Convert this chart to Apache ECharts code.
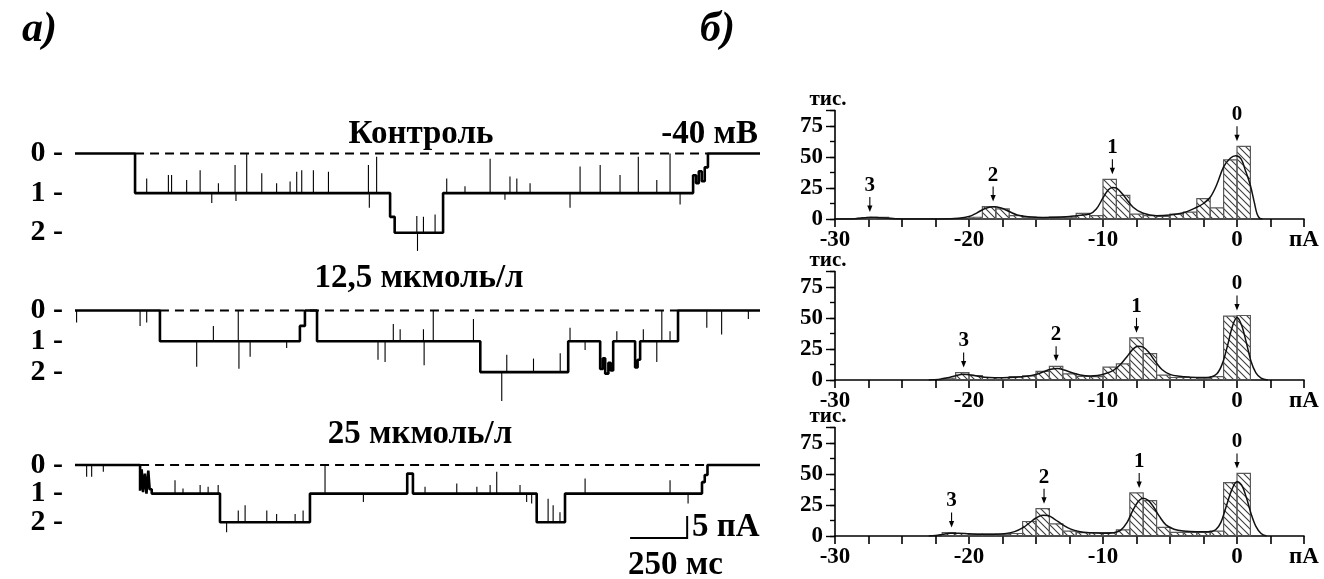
<!DOCTYPE html>
<html>
<head>
<meta charset="utf-8">
<script src="https://cdn.jsdelivr.net/npm/echarts@6/dist/echarts.min.js"></script>
<style>
  html, body { margin: 0; padding: 0; background: #fff; }
  #chart { width: 1324px; height: 579px; }
</style>
</head>
<body>
<div id="chart"></div>
<script>
// ---------- а) single-channel current records ----------
// dwell segments: [start ms, end ms, number of open channels]
const controlSegments = [
  [0, 263, 0], [263, 1380, 1], [1380, 1400, 1.6], [1400, 1612, 2], [1612, 2707, 1],
  [2707, 2720, 0.55], [2720, 2732, 0.75], [2732, 2745, 0.45], [2745, 2758, 0.7],
  [2758, 2772, 0.35], [2772, 3000, 0]
];
// brief excursions: [time ms, level reached]
const controlSpikes = [
  [314, 0.63], [409, 0.54], [423, 0.54], [489, 0.67], [548, 0.42], [599, 1.25], [628, 0.75],
  [701, 0.29], [705, 1.2], [752, 0], [818, 0.5], [883, 0.75], [942, 0.71], [971, 0.46],
  [993, 0.42], [1044, 0.42], [1110, 0.46], [1285, 0.29], [1289, 1.37], [1321, 0.08],
  [1497, 1.58], [1500, 2.46], [1526, 1.6], [1577, 1.54],
  [1628, 0.63], [1708, 0.83], [1818, 0.13], [1883, 1.17], [1905, 0.58], [1935, 0.63],
  [1993, 0.75], [2168, 1.37], [2212, 0.33], [2300, 0.29], [2387, 0.54], [2467, 0.08],
  [2548, 0.67], [2606, 0], [2650, 1.29]
];
const dose1Segments = [
  [0, 372, 0], [372, 985, 1], [985, 1007, 0.5], [1007, 1060, 0], [1060, 1775, 1],
  [1775, 2160, 2], [2160, 2300, 1], [2300, 2312, 1.9], [2312, 2322, 1.55], [2322, 2336, 2.05],
  [2336, 2346, 1.7], [2346, 2357, 1.95], [2357, 2453, 1], [2453, 2464, 1.85],
  [2464, 2475, 1.6], [2475, 2641, 1], [2641, 3000, 0]
];
const dose1Spikes = [
  [7, 0.39], [285, 0.5], [314, 0.39],
  [533, 1.83], [606, 0.5], [715, 0], [718, 1.89], [767, 1.5], [927, 1.22],
  [1327, 1.6], [1358, 1.67], [1394, 0.44], [1424, 0.61], [1526, 0.61], [1529, 1.78],
  [1569, 0], [1745, 0.28],
  [1869, 2.94], [1891, 1.44], [2008, 1.56], [2125, 1.39],
  [2168, 0.56], [2234, 1.28], [2373, 0.67], [2489, 0.61], [2548, 1.67], [2570, 0], [2606, 0.67],
  [2767, 0.56], [2832, 0.78], [2949, 0.28]
];
const dose2Segments = [
  [0, 285, 0], [285, 292, 0.9], [292, 298, 0.15], [298, 306, 0.95], [306, 313, 0.3],
  [313, 321, 1.0], [321, 327, 0.2], [327, 336, 0.85], [336, 635, 1],
  [635, 1029, 2], [1029, 1455, 1], [1455, 1480, 0.3], [1480, 2022, 1], [2022, 2146, 2],
  [2146, 2746, 1], [2746, 2758, 0.6], [2758, 2770, 0.35], [2770, 3000, 0]
];
const dose2Spikes = [
  [51, 0.41], [73, 0.41], [124, 0.24],
  [438, 0.53], [473, 0.82], [548, 0.7], [583, 0.76], [627, 0.7],
  [664, 2.35], [715, 1.59], [745, 1.41], [840, 1.59], [883, 1.71], [964, 1.71], [999, 1.59],
  [1095, 0], [1263, 1.29], [1533, 0.76], [1672, 0.65], [1760, 0.76], [1818, 0.7],
  [1847, 0.24], [1949, 0.7], [1978, 1.29], [2000, 1.35],
  [2072, 1.18], [2094, 1.41], [2124, 1.65],
  [2234, 0.47], [2606, 0.53], [2685, 1.35]
];
// unitary current of one open channel, pA
const unitCurrents = [9, 7, 6.5];
// closed-level reference line span, ms
const zeroSpans = [[263, 2772], [372, 2641], [285, 2770]];
const traceTitles = ['Контроль', '12,5 мкмоль/л', '25 мкмоль/л'];
const levelNames = ['0', '1', '2'];
// scale bar: origin [ms, pA], 250 ms and 5 pA
const scaleBarOrigin = [2431, -16.6];
const scaleBarTime = 250;
const scaleBarCurrent = 5;

// ---------- б) amplitude histograms ----------
// bins of 1 pA: [left edge pA, count (thousands)]
const controlBins = [
  [-28, 1.2], [-27, 1.3], [-20, 1.4], [-19, 10], [-18, 8.2], [-17, 2.7], [-16, 1.5], [-15, 1.2],
  [-14, 1.5], [-13, 1.5], [-12, 4.6], [-11, 2.7], [-10, 32], [-9, 19], [-8, 4], [-7, 2.7],
  [-6, 2], [-5, 4], [-4, 5.5], [-3, 16.4], [-2, 9], [-1, 47.7], [0, 58.6]
];
const dose1Bins = [
  [-22, 1.4], [-21, 6], [-20, 3.5], [-19, 2], [-18, 2], [-17, 2.7], [-16, 3.3], [-15, 7],
  [-14, 11], [-13, 5], [-12, 3], [-11, 2.7], [-10, 10.4], [-9, 13], [-8, 34], [-7, 21.3],
  [-6, 4], [-5, 2], [-4, 2], [-3, 1.4], [-2, 2.7], [-1, 51.5], [0, 52]
];
const dose2Bins = [
  [-22, 2.8], [-21, 2], [-20, 1.5], [-19, 1.5], [-18, 1.5], [-17, 2], [-16, 11.7], [-15, 22],
  [-14, 9.7], [-13, 4], [-12, 2.8], [-11, 2.8], [-10, 2.8], [-9, 5], [-8, 34.7], [-7, 28.6],
  [-6, 7], [-5, 3], [-4, 3], [-3, 3], [-2, 4], [-1, 43], [0, 50.5]
];
// multi-Gaussian fit: [pA, thousands]
const controlFit = [
  [-30, 0], [-28.5, 0.3], [-27.8, 1.0], [-27.3, 1.5], [-26.6, 1.0], [-25.5, 0.3], [-24, 0.1],
  [-22, 0.1], [-20.8, 0.6], [-20, 2], [-19.4, 5], [-18.8, 8.5], [-18.2, 9.8], [-17.6, 8.8],
  [-17, 6], [-16.4, 3.3], [-15.6, 1.8], [-14.5, 1.3], [-13.5, 1.4], [-12.5, 2], [-12, 2.7],
  [-11, 4], [-10.5, 8], [-10, 17], [-9.6, 23.5], [-9.3, 25.5], [-9, 25], [-8.5, 19.5],
  [-7.75, 9.5], [-7, 4.6], [-6, 2.7], [-5, 3.3], [-4, 5], [-3, 9.5], [-2.5, 12.5], [-2, 17.5],
  [-1.5, 28], [-1, 42], [-0.5, 49], [-0.1, 51], [0.3, 48.5], [0.6, 40], [1, 27], [1.3, 13],
  [1.5, 4], [1.7, 0.5], [1.9, 0]
];
const dose1Fit = [
  [-23, 0], [-22.3, 0.5], [-21.6, 1.8], [-21, 3.5], [-20.4, 4.6], [-19.8, 4], [-19.2, 2.8],
  [-18.5, 2], [-17.5, 1.8], [-16.5, 2.2], [-15.7, 3], [-15, 4.5], [-14.4, 6.8], [-13.9, 8.6],
  [-13.4, 9.2], [-12.9, 8], [-12.3, 5.8], [-11.7, 4], [-11, 3.2], [-10.4, 3.6], [-9.8, 5.2],
  [-9.2, 8], [-8.7, 12.5], [-8.2, 19], [-7.8, 24.5], [-7.4, 27.3], [-7, 26.5], [-6.6, 22.5],
  [-6.1, 15], [-5.6, 8.5], [-5, 4.5], [-4.3, 3], [-3.5, 2.3], [-2.6, 2], [-2, 2.3], [-1.5, 5],
  [-1.1, 13], [-0.7, 28], [-0.35, 43], [0, 50.4], [0.35, 44], [0.7, 30], [1.05, 15],
  [1.4, 6], [1.8, 1.5], [2.3, 0]
];
const dose2Fit = [
  [-23, 0], [-22.5, 0.4], [-22, 1.2], [-21.4, 2.2], [-20.8, 2.3], [-20, 1.8], [-19, 1.4],
  [-18, 1.4], [-17.2, 2], [-16.6, 3.5], [-16, 6.5], [-15.5, 10.5], [-15, 14.5], [-14.5, 16.8],
  [-14.1, 16.5], [-13.6, 13.5], [-13, 9], [-12.4, 5.5], [-11.8, 3.6], [-11, 2.6], [-10, 2.2],
  [-9.2, 2.6], [-8.7, 4.5], [-8.2, 11], [-7.8, 20], [-7.4, 27.5], [-7, 30.5], [-6.6, 28.5],
  [-6.2, 23], [-5.8, 16], [-5.3, 9], [-4.7, 5.5], [-4, 4], [-3, 3.4], [-2.2, 3.4], [-1.6, 5],
  [-1.2, 11], [-0.8, 24], [-0.4, 37], [0, 43.8], [0.35, 41], [0.7, 31], [1.05, 18],
  [1.4, 8], [1.8, 2], [2.2, 0]
];
// peak markers: [pA, height pointed at, number of open channels]
const controlPeaks = [[-27.4, 1.6, 3], [-18.2, 10, 2], [-9.3, 32, 1], [0, 58.6, 0]];
const dose1Peaks = [[-20.4, 6, 3], [-13.5, 11, 2], [-7.5, 34, 1], [0, 52, 0]];
const dose2Peaks = [[-21.3, 2.8, 3], [-14.4, 22, 2], [-7.3, 34.7, 1], [0, 50.5, 0]];
const histXTicks = [-30, -20, -10, 0];
const histYTicks = [0, 25, 50, 75];

// ---------- drawing ----------
const FONT = '"Liberation Serif", "Times New Roman", serif';
const chart = echarts.init(document.getElementById('chart'));

function hatchPattern() {
  const c = document.createElement('canvas');
  c.width = 7; c.height = 7;
  const g = c.getContext('2d');
  g.strokeStyle = '#3c3c3c';
  g.lineWidth = 1.1;
  g.beginPath();
  g.moveTo(-1, -1); g.lineTo(8, 8);
  g.moveTo(-1, 6); g.lineTo(1, 8);
  g.moveTo(6, -1); g.lineTo(8, 1);
  g.stroke();
  return { image: c, repeat: 'repeat' };
}
const hatch = hatchPattern();

const traces = [
  { segments: controlSegments, spikes: controlSpikes, top: 113.9, height: 158.4 },
  { segments: dose1Segments, spikes: dose1Spikes, top: 279.7, height: 123.2 },
  { segments: dose2Segments, spikes: dose2Spikes, top: 436.4, height: 114.4 }
];
const hists = [
  { bins: controlBins, fit: controlFit, peaks: controlPeaks, top: 110.5 },
  { bins: dose1Bins, fit: dose1Fit, peaks: dose1Peaks, top: 271.5 },
  { bins: dose2Bins, fit: dose2Fit, peaks: dose2Peaks, top: 427.5 }
];

function levelAt(segments, t) {
  for (const s of segments) if (t >= s[0] && t <= s[1]) return s[2];
  return 0;
}

const grid = [], xAxis = [], yAxis = [], series = [];

traces.forEach((tr, k) => {
  const unit = unitCurrents[k];
  grid.push({ left: 75, width: 685, top: tr.top, height: tr.height });
  xAxis.push({ type: 'value', gridIndex: k, min: 0, max: 3000, show: false });
  yAxis.push({
    type: 'value', gridIndex: k, min: -3 * unit, max: unit, interval: unit,
    axisLine: { show: false, onZero: false }, axisTick: { show: false }, splitLine: { show: false },
    axisLabel: {
      margin: 12, color: '#000', fontFamily: FONT, fontWeight: 'bold', fontSize: 30,
      formatter: v => {
        const n = Math.round(-v / unit);
        return (n >= 0 && n < levelNames.length && Math.abs(v + n * unit) < 1e-6)
          ? levelNames[n] + ' -' : '';
      }
    }
  });
  // closed-level reference
  series.push({
    type: 'line', xAxisIndex: k, yAxisIndex: k, symbol: 'none', silent: true, z: 1,
    data: [[zeroSpans[k][0], 0], [zeroSpans[k][1], 0]],
    lineStyle: { color: '#000', width: 2, type: [9, 6] }
  });
  // current record
  const pts = [];
  tr.segments.forEach(s => { pts.push([s[0], -s[2] * unit]); pts.push([s[1], -s[2] * unit]); });
  series.push({
    type: 'line', xAxisIndex: k, yAxisIndex: k, symbol: 'none', silent: true, z: 3,
    data: pts, lineStyle: { color: '#000', width: 2.6, join: 'bevel', cap: 'butt' }
  });
  // brief excursions
  series.push({
    type: 'custom', xAxisIndex: k, yAxisIndex: k, silent: true, z: 3,
    data: tr.spikes.map(s => [s[0], -s[1] * unit, -levelAt(tr.segments, s[0]) * unit]),
    renderItem: (params, api) => {
      const a = api.coord([api.value(0), api.value(2)]);
      const b = api.coord([api.value(0), api.value(1)]);
      return { type: 'line', shape: { x1: a[0], y1: a[1], x2: b[0], y2: b[1] },
               style: { stroke: '#000', lineWidth: 1.1 } };
    }
  });
});

// scale bar in the lowest record
series.push({
  type: 'line', xAxisIndex: 2, yAxisIndex: 2, symbol: 'none', silent: true,
  data: [
    [scaleBarOrigin[0], scaleBarOrigin[1]],
    [scaleBarOrigin[0] + scaleBarTime, scaleBarOrigin[1]],
    [scaleBarOrigin[0] + scaleBarTime, scaleBarOrigin[1] + scaleBarCurrent]
  ],
  lineStyle: { color: '#000', width: 2, join: 'miter' }
});

const labelFont = { color: '#000', fontFamily: FONT, fontWeight: 'bold', fontSize: 23 };
hists.forEach((h, j) => {
  const gi = 3 + j;
  grid.push({ left: 835, width: 469, top: h.top, height: 108.5 });
  xAxis.push({
    type: 'value', gridIndex: gi, min: -30, max: 5, interval: 2.5,
    axisLine: { onZero: false, lineStyle: { color: '#000', width: 1.6 } },
    axisTick: { length: 8, lineStyle: { color: '#000', width: 1.6 } },
    splitLine: { show: false },
    axisLabel: Object.assign({ margin: 10,
      formatter: v => histXTicks.some(t => Math.abs(t - v) < 1e-6) ? String(v) : '' }, labelFont),
    name: 'пА', nameLocation: 'end', nameGap: 0,
    nameTextStyle: Object.assign({ align: 'center', verticalAlign: 'top', padding: [10, 0, 0, 0] }, labelFont)
  });
  yAxis.push({
    type: 'value', gridIndex: gi, min: 0, max: 87.5, interval: 12.5,
    axisLine: { show: true, onZero: false, lineStyle: { color: '#000', width: 1.6 } },
    axisTick: { show: true, length: 5, lineStyle: { color: '#000', width: 1.4 } },
    splitLine: { show: false },
    axisLabel: Object.assign({ margin: 12,
      formatter: v => histYTicks.some(t => Math.abs(t - v) < 1e-6) ? String(v) : '' }, labelFont),
    name: 'тис.', nameLocation: 'end', nameGap: 0,
    nameTextStyle: { color: '#000', fontFamily: FONT, fontWeight: 'bold', fontSize: 21,
      align: 'center', padding: [0, 14, 0, 0] }
  });
  // longer ticks at labelled values
  yAxis.push({
    type: 'value', gridIndex: gi, min: 0, max: 87.5, interval: 25, position: 'left',
    axisLine: { show: false, onZero: false }, axisLabel: { show: false }, splitLine: { show: false },
    axisTick: { show: true, length: 9, lineStyle: { color: '#000', width: 1.4 } }
  });
});

// yAxis indices: traces 0..2, histograms 3,5,7 (main) and 4,6,8 (long ticks)
hists.forEach((h, j) => {
  const xi = 3 + j, yi = 3 + 2 * j;
  series.push({
    type: 'custom', xAxisIndex: xi, yAxisIndex: yi, silent: true, z: 2,
    data: h.bins,
    renderItem: (params, api) => {
      const p0 = api.coord([api.value(0), api.value(1)]);
      const p1 = api.coord([api.value(0) + 1, 0]);
      return { type: 'rect',
        shape: { x: p0[0], y: p0[1], width: p1[0] - p0[0], height: p1[1] - p0[1] },
        style: { fill: hatch, stroke: '#5a5a5a', lineWidth: 1.2 } };
    }
  });
  series.push({
    type: 'line', xAxisIndex: xi, yAxisIndex: yi, symbol: 'none', silent: true, z: 4,
    smooth: 0.35, data: h.fit, lineStyle: { color: '#111', width: 1.5 }
  });
  series.push({
    type: 'custom', xAxisIndex: xi, yAxisIndex: yi, silent: true, z: 5,
    data: h.peaks,
    renderItem: (params, api) => {
      const p = api.coord([api.value(0), api.value(1)]);
      const x = p[0], tip = p[1] - 5;
      return { type: 'group', children: [
        { type: 'line', shape: { x1: x, y1: tip - 15, x2: x, y2: tip - 5 },
          style: { stroke: '#000', lineWidth: 1.1 } },
        { type: 'polygon', shape: { points: [[x - 2.6, tip - 6.5], [x + 2.6, tip - 6.5], [x, tip]] },
          style: { fill: '#000' } },
        { type: 'text', style: { x: x, y: tip - 16, text: String(api.value(2)),
          font: 'bold 21px ' + FONT, fill: '#000',
          align: 'center', verticalAlign: 'bottom', textAlign: 'center', textVerticalAlign: 'bottom' } }
      ] };
    }
  });
});

function label(text, x, y, font, align) {
  return { type: 'text', x: x, y: y, silent: true,
    style: { text: text, font: font, fill: '#000',
      align: align || 'left', verticalAlign: 'middle',
      textAlign: align || 'left', textVerticalAlign: 'middle' } };
}
const titleFont = 'bold 33px ' + FONT;
const graphic = [
  label('а)', 22, 30, 'italic bold 42px ' + FONT),
  label('б)', 700, 30, 'italic bold 42px ' + FONT),
  label(traceTitles[0], 421, 134, titleFont, 'center'),
  label('-40 мВ', 758, 134, titleFont, 'right'),
  label(traceTitles[1], 419, 278, titleFont, 'center'),
  label(traceTitles[2], 420, 434, titleFont, 'center'),
  label('5 пА', 692, 527, titleFont),
  label('250 мс', 628, 565, titleFont)
];

chart.setOption({
  animation: false,
  backgroundColor: '#fff',
  grid: grid, xAxis: xAxis, yAxis: yAxis, series: series, graphic: graphic
});
</script>
</body>
</html>
